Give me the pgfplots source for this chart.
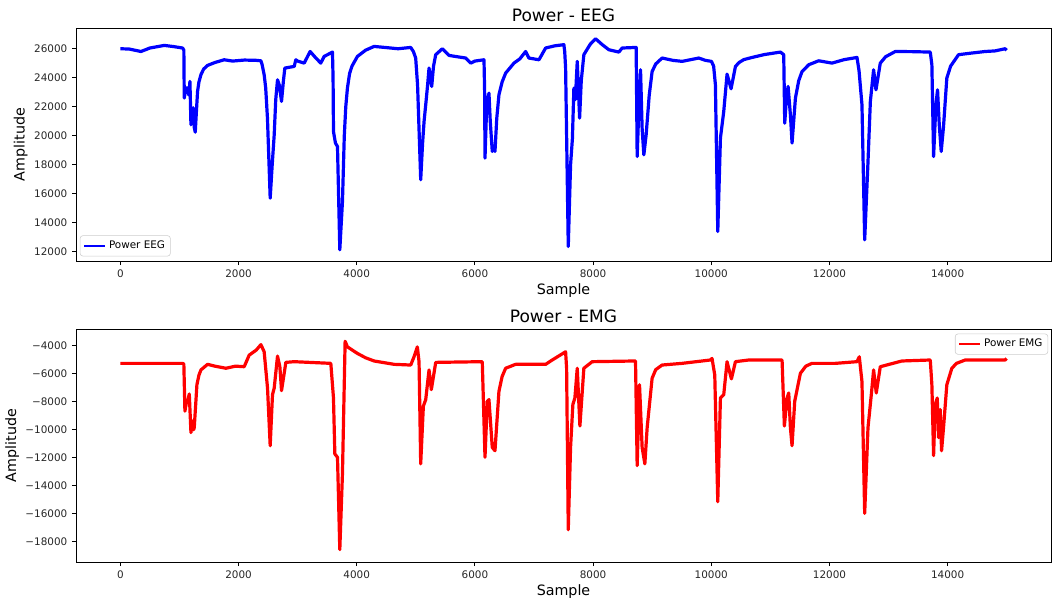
\documentclass[border=0pt]{standalone}
\usepackage{pgfplots}
\pgfplotsset{compat=1.18}
\usepackage{fontspec}
\setmainfont{DejaVu Sans}
\pgfplotstableread{
x y
0 26000
150 25980
350 25810
500 26050
744 26230
900 26150
1054 26050
1075 25900
1082 22600
1110 23300
1138 23290
1160 22800
1178 23750
1195 20760
1215 21300
1234 21930
1250 20600
1268 20250
1285 21500
1307 23060
1330 23700
1364 24210
1410 24600
1476 24850
1600 25050
1758 25240
1900 25150
2100 25220
2300 25200
2379 25170
2400 24900
2434 24210
2460 23300
2490 21200
2536 15700
2570 18000
2604 20070
2630 22500
2660 23860
2690 23500
2728 22370
2760 23800
2784 24670
2942 24780
2970 25240
3000 25150
3111 25010
3212 25810
3300 25400
3392 25010
3449 25470
3590 25770
3600 24000
3607 20300
3640 19500
3675 19260
3714 12140
3759 15470
3790 20000
3815 22000
3843 23290
3880 24300
3920 24800
4012 25470
4150 25900
4294 26160
4500 26080
4700 26000
4914 26090
4960 25800
4998 25360
5030 23500
5083 16970
5115 19500
5140 20990
5168 22140
5200 23500
5224 24670
5269 23400
5300 24800
5337 25590
5449 26000
5562 25540
5700 25450
5844 25360
5929 25010
6000 25150
6154 25240
6165 23000
6171 18460
6195 21500
6210 22370
6238 22940
6260 21000
6294 18920
6320 19300
6340 18920
6370 21200
6407 22830
6460 23700
6520 24320
6661 25010
6760 25300
6859 25810
6914 25360
7084 25240
7197 26050
7350 26200
7506 26280
7520 25800
7535 24670
7580 12370
7619 18000
7650 19800
7675 23290
7700 22500
7732 25130
7772 21220
7800 23800
7844 25590
7950 26300
8042 26690
8150 26300
8267 25930
8436 25770
8492 26050
8729 26090
8746 18570
8775 22000
8803 24550
8830 20500
8859 18690
8898 20070
8950 22800
8999 24430
9060 24950
9168 25360
9350 25200
9506 25130
9789 25360
9900 25200
10003 25130
10040 24800
10070 23520
10110 13400
10155 19840
10211 21680
10267 24250
10335 23240
10409 24780
10470 25050
10550 25250
10690 25400
10900 25600
11170 25770
11226 25590
11243 20870
11270 22500
11300 23400
11339 21450
11367 19500
11424 22600
11480 23800
11536 24430
11650 24900
11818 25170
12043 25010
12250 25250
12466 25400
12500 24500
12550 22140
12596 12830
12650 18000
12692 22370
12747 24550
12787 23170
12860 25010
12950 25450
13114 25810
13400 25800
13706 25770
13733 24900
13762 18570
13801 22140
13829 23170
13858 20760
13891 18920
13930 20640
13986 23980
14050 24800
14184 25590
14400 25700
14635 25810
14800 25850
14973 26000
14999 25900
}\eegdata
\pgfplotstableread{
x y
0 -5250
1054 -5250
1075 -5300
1093 -8670
1120 -8000
1138 -7960
1167 -7440
1195 -10200
1223 -9370
1240 -10000
1251 -9850
1296 -6780
1330 -6100
1364 -5720
1476 -5320
1600 -5450
1787 -5600
1950 -5450
2096 -5490
2181 -4660
2300 -4300
2379 -3910
2434 -4420
2491 -7020
2536 -11140
2575 -7490
2604 -7020
2660 -4730
2700 -5500
2728 -7200
2801 -5180
2942 -5130
3562 -5250
3607 -7730
3630 -11730
3675 -11970
3714 -18570
3759 -13140
3804 -3670
3843 -4070
4012 -4540
4150 -4850
4294 -5080
4632 -5320
4914 -5370
4970 -4780
5026 -4070
5055 -5130
5083 -12440
5128 -8310
5168 -7840
5224 -5720
5263 -7130
5337 -5180
6125 -5130
6171 -11970
6210 -7960
6238 -7840
6294 -11260
6340 -11500
6407 -7250
6460 -6200
6520 -5600
6689 -5320
7197 -5320
7309 -5010
7535 -4420
7552 -5600
7580 -17150
7619 -11260
7658 -8190
7692 -7730
7732 -5600
7777 -9730
7844 -5600
7985 -5130
8718 -5080
8746 -12560
8786 -6780
8830 -11260
8876 -12440
8915 -9850
8999 -6310
9060 -5700
9168 -5370
9506 -5250
9985 -5010
10013 -4900
10059 -6080
10110 -15150
10155 -7730
10211 -7490
10267 -5130
10341 -6360
10409 -5130
10634 -5010
11198 -5010
11237 -9730
11282 -7730
11311 -7370
11339 -9850
11367 -11140
11412 -7960
11508 -5960
11600 -5450
11704 -5250
12099 -5250
12466 -5130
12505 -4780
12550 -6550
12596 -15980
12652 -9850
12708 -7490
12747 -5720
12792 -7370
12860 -5490
13226 -5080
13706 -5010
13733 -6780
13762 -11850
13790 -8190
13824 -7730
13846 -10560
13874 -8550
13897 -11500
13930 -9850
13986 -6780
14071 -5600
14150 -5250
14297 -5010
14973 -5010
14999 -4900
}\emgdata
\pgfplotsset{
  mystyle/.style={
    scale only axis, width=731.25pt, height=174.75pt,
    anchor=south west,
    xmin=-750, xmax=15749,
    scaled ticks=false,
    xtick={0,2000,4000,6000,8000,10000,12000,14000},
    xticklabels={0,2000,4000,6000,8000,10000,12000,14000},
    tick align=outside, xtick pos=bottom, ytick pos=left,
    major tick length=3pt,
    tick style={black, line width=0.6pt},
    axis line style={black, line width=0.6pt},
    tick label style={font=\fontsize{7.8pt}{9pt}\selectfont, text=black!85},
    xlabel={Sample}, ylabel={Amplitude},
    label style={font=\fontsize{10.7pt}{12pt}\selectfont},
    xlabel style={yshift=2pt},
    ylabel style={yshift=-2pt},
    title style={font=\fontsize{12.8pt}{14pt}\selectfont, yshift=-5pt},
    legend style={font=\fontsize{7.8pt}{9pt}\selectfont, draw=black!20, rounded corners=2pt, inner sep=2pt, row sep=0pt},
    legend cell align=left,
    legend image post style={line width=2pt},
    legend image code/.code={\draw[#1] (0cm,0cm) -- (0.55cm,0cm);},
  }
}
\begin{document}
\begin{tikzpicture}
\path[use as bounding box] (0,0) rectangle (789pt,453pt);
\begin{axis}[mystyle, at={(57pt,257.25pt)},
  title={Power - EEG},
  ymin=11370, ymax=27430,
  ytick={12000,14000,16000,18000,20000,22000,24000,26000},
  yticklabels={12000,14000,16000,18000,20000,22000,24000,26000},
  legend style={at={(0.004,0.02)}, anchor=south west},
]
\addplot[blue, line width=2.4pt, line join=round] table[x=x,y=y] {\eegdata};
\addlegendentry{Power EEG}
\end{axis}
\begin{axis}[mystyle, at={(57pt,31.5pt)},
  title={Power - EMG},
  ymin=-19457, ymax=-2793,
  ytick={-18000,-16000,-14000,-12000,-10000,-8000,-6000,-4000},
  yticklabels={−18000,−16000,−14000,−12000,−10000,−8000,−6000,−4000},
  legend style={at={(0.997,0.98)}, anchor=north east},
]
\addplot[red, line width=2.4pt, line join=round] table[x=x,y=y] {\emgdata};
\addlegendentry{Power EMG}
\end{axis}
\end{tikzpicture}
\end{document}
